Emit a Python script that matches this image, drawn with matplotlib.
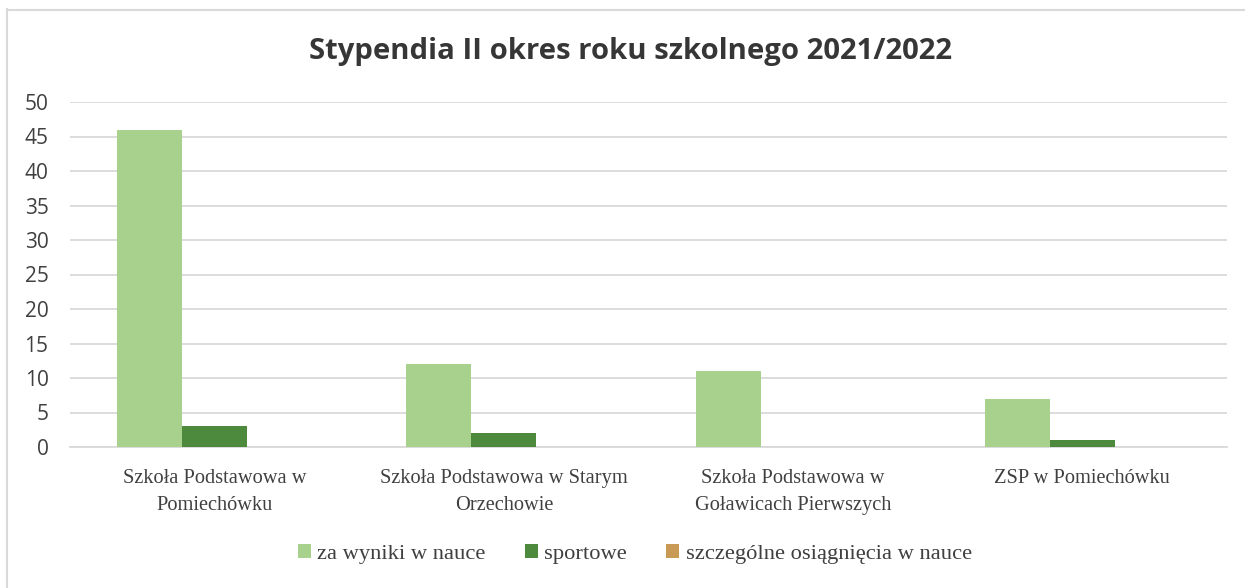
import matplotlib
matplotlib.use("Agg")
import matplotlib.pyplot as plt
import numpy as np
from matplotlib.lines import Line2D

categories = ["Szkoła Podstawowa w\nPomiechówku",
              "Szkoła Podstawowa w Starym\nOrzechowie",
              "Szkoła Podstawowa w\nGoławicach Pierwszych",
              "ZSP w Pomiechówku"]
series_names = ["za wyniki w nauce", "sportowe", "szczególne osiągnięcia w nauce"]
za_wyniki = [46, 12, 11, 7]
sportowe = [3, 2, 0, 1]
szczegolne = [0, 0, 0, 0]
colors = ["#A9D18E", "#4E8A3E", "#C99A55"]
yticks = [0, 5, 10, 15, 20, 25, 30, 35, 40, 45, 50]

fig = plt.figure(figsize=(12.45, 5.88), dpi=100)
ax = fig.add_axes([70/1245, 1-447/588, (1227-70)/1245, (447-102)/588])

x = np.arange(len(categories))
w = 0.225
for i, (vals, c, name) in enumerate(zip([za_wyniki, sportowe, szczegolne], colors, series_names)):
    ax.bar(x + (i-1)*w, vals, width=w, color=c, label=name, zorder=3)

ax.set_xlim(-0.5, len(categories)-0.5)
ax.set_ylim(0, 50)
ax.set_yticks(yticks)
ax.grid(axis="y", color="#D9D9D9", linewidth=1.3, zorder=0)
for s in ["top", "right", "left"]:
    ax.spines[s].set_visible(False)
ax.spines["bottom"].set_color("#D9D9D9")
ax.spines["bottom"].set_linewidth(1.3)
ax.tick_params(axis="both", length=0)
ax.tick_params(axis="y", pad=15.5, labelsize=15, labelcolor="#404040")
for lab in ax.get_yticklabels():
    lab.set_fontfamily("Open Sans")
ax.set_xticks(x)
ax.set_xticklabels(categories, fontfamily="Liberation Serif", fontsize=14.7, color="#404040",
                   linespacing=1.58)
ax.tick_params(axis="x", pad=16)

fig.text(631/1245, 1-51/588, "Stypendia II okres roku szkolnego 2021/2022",
         ha="center", va="center", fontfamily="Open Sans", fontweight="bold",
         fontsize=21.1, color="#363636")

leg = fig.legend(loc="center", bbox_to_anchor=(635/1245, 1-554/588), ncol=3, frameon=False,
                 prop={"family": "Liberation Serif", "size": 16.2},
                 handlelength=0.55, handleheight=0.55, handletextpad=0.3, columnspacing=1.75)
for t in leg.get_texts():
    t.set_color("#404040")

fig.add_artist(Line2D([7/1245, 7/1245], [0, 1-9/588], transform=fig.transFigure,
                      color="#D9D9D9", linewidth=1.5))
fig.add_artist(Line2D([7/1245, 1], [1-9.5/588, 1-9.5/588], transform=fig.transFigure,
                      color="#D9D9D9", linewidth=1.5))

fig.savefig("out.png", dpi=100, facecolor="white")
